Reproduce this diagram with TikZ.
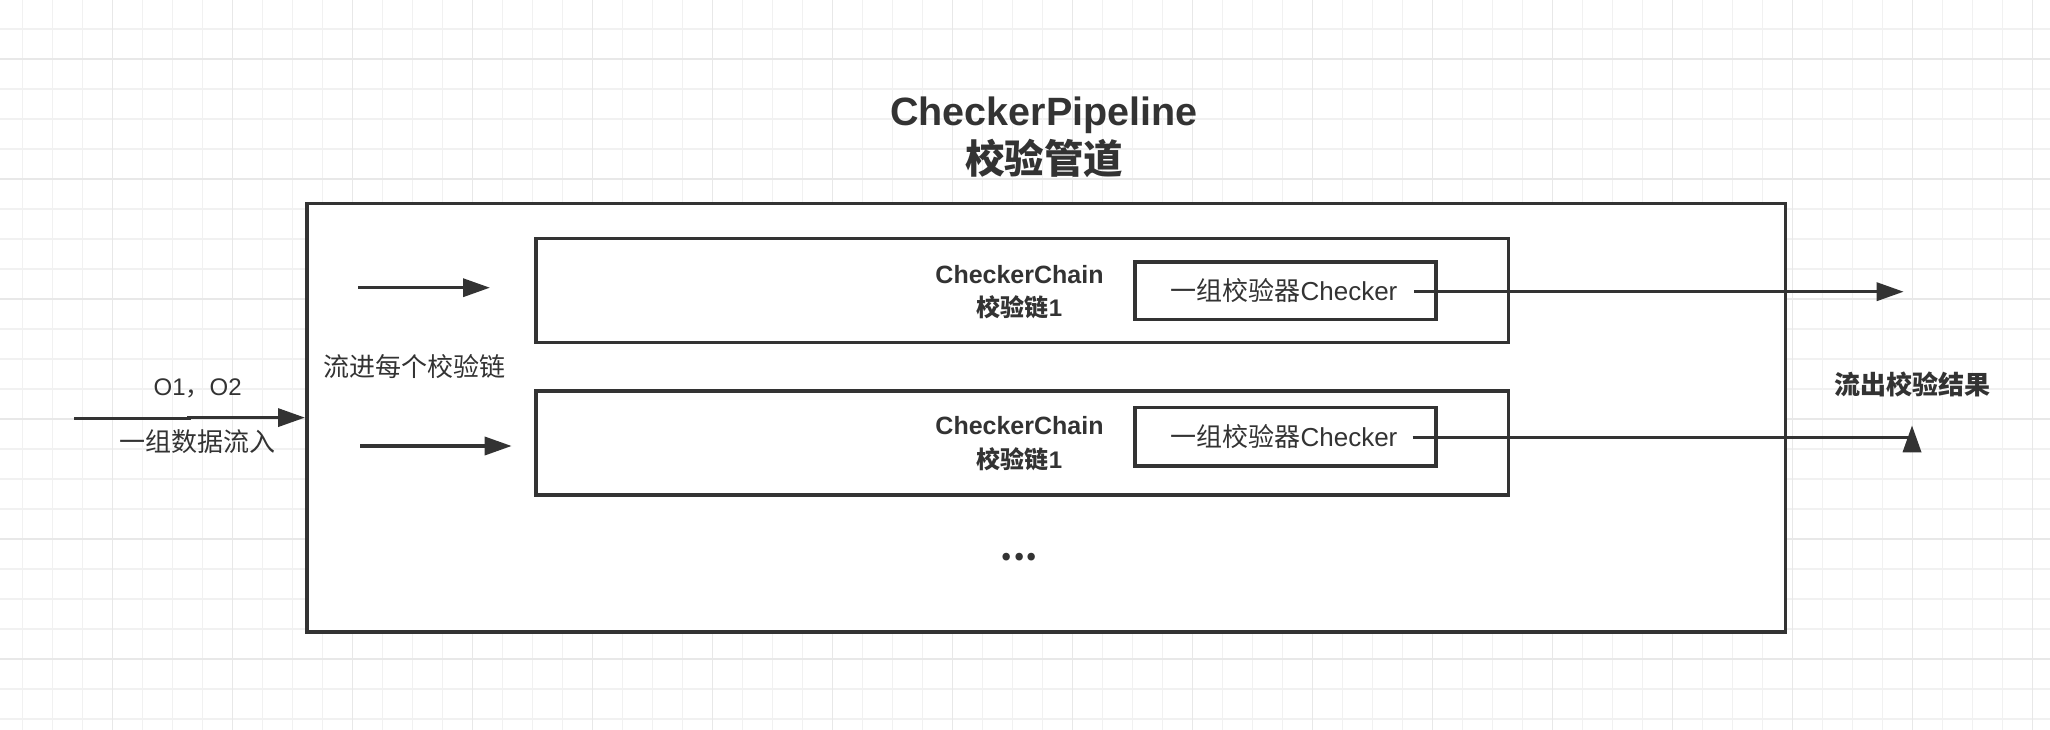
\documentclass[tikz,border=0pt]{standalone}
\usepackage{fontspec}
\setmainfont{Liberation Sans}
\newfontfamily\cjk{Noto Sans CJK SC}
\usetikzlibrary{arrows.meta,calc}
\definecolor{ink}{HTML}{333333}
\definecolor{gridminor}{HTML}{F1F1F1}
\definecolor{gridmajor}{HTML}{E8E8E8}
\newcommand{\fs}[1]{\fontsize{#1}{#1}\selectfont}

\begin{document}
\begin{tikzpicture}[x=1pt,y=-1pt,
  box/.style={draw=ink, line width=3.5pt, fill=white, inner sep=0pt, anchor=north west},
  flow/.style={draw=ink, line width=3.5pt, -{Triangle[length=27pt,width=18pt]}},
  wire/.style={draw=ink, line width=3.5pt},
  lbl/.style={text=ink, inner sep=0pt, anchor=base},
]
% canvas and background grid
\useasboundingbox (0,0) rectangle (2050,730);
\fill[white] (0,0) rectangle (2050,730);
\foreach \x in {22.7,52.7,...,2050} \draw[gridminor, line width=1.3pt] (\x,0) -- (\x,730);
\foreach \y in {29,59,...,730} \draw[gridminor, line width=1.3pt] (0,\y) -- (2050,\y);
\foreach \x in {112.7,232.7,...,2050} \draw[gridmajor, line width=1.3pt] (\x,0) -- (\x,730);
\foreach \y in {59,179,...,730} \draw[gridmajor, line width=1.3pt] (0,\y) -- (2050,\y);

% pipeline frame, chains and checker groups
\node[box, minimum width=1478.5pt, minimum height=428.3pt] (pipe) at (305,201.7) {};
\node[box, minimum width=972.5pt, minimum height=104pt] (chain1) at (534,236.7) {};
\node[box, minimum width=972.5pt, minimum height=104pt] (chain2) at (534,389.3) {};
\node[box, minimum width=301pt, minimum height=57.7pt] (chk1) at (1133,260) {};
\node[box, minimum width=301pt, minimum height=58.6pt] (chk2) at (1133,405.7) {};

% flow end points
\coordinate (src) at (74,418.7);
\coordinate (in1s) at (358,287.7);
\coordinate (in1e) at (490,287.7);
\coordinate (in2s) at (360,446);
\coordinate (in2e) at (511.7,446);
\coordinate (o1s) at (1414,291.7);
\coordinate (o1e) at (1903.7,291.7);
\coordinate (o2s) at (1412.6,437.5);
\coordinate (o2e) at (1912,437.5);
\coordinate (o2tipbase) at (1912,452.3);
\coordinate (o2tip) at (1912,425.3);

% connectors
\draw[flow] (src) -- ++(115,0) |- (pipe.west);
\draw[flow] (in1s) -- (in1e);
\draw[flow] (in2s) -- (in2e);
\draw[flow] (o1s) -- (o1e);
\draw[wire] (o2s) -- (o2e);
\draw[flow] (o2tipbase) -- (o2tip);

% texts
\node[lbl, font=\bfseries\fs{39.5}] (title1) at (1044,125.6) {CheckerPipeline};
\node[lbl, font=\cjk\bfseries\fs{39.5}] (title2) at (1044,173.3) {校验管道};

\node[lbl, font=\bfseries\fs{25}] (cc1a) at (1019.5,283.9) {CheckerChain};
\node[lbl, font=\bfseries\fs{24}] (cc1b) at (1019.5,316.1) {{\cjk 校验链}1};
\node[lbl, font=\bfseries\fs{25}] (cc2a) at (1019.5,434.6) {CheckerChain};
\node[lbl, font=\bfseries\fs{24}] (cc2b) at (1019.5,468.4) {{\cjk 校验链}1};

\node[lbl, font=\fs{26}] (ck1) at (1284,300.9) {{\cjk 一组校验器}Checker};
\node[lbl, font=\fs{26}] (ck2) at (1284,446.6) {{\cjk 一组校验器}Checker};

\node[lbl, font=\cjk\fs{26}] (into) at (414,376.6) {流进每个校验链};
\node[lbl, font=\fs{24}] (objs) at (197.7,395.3) {O1{\cjk ，}O2};
\node[lbl, font=\cjk\fs{26}] (incoming) at (197,451.6) {一组数据流入};
\node[lbl, font=\cjk\bfseries\fs{26}] (outgoing) at (1912,394.9) {流出校验结果};
\node[lbl, font=\cjk\bfseries\fs{35}] (more) at (1019.3,560.5) {...};
\end{tikzpicture}
\end{document}
